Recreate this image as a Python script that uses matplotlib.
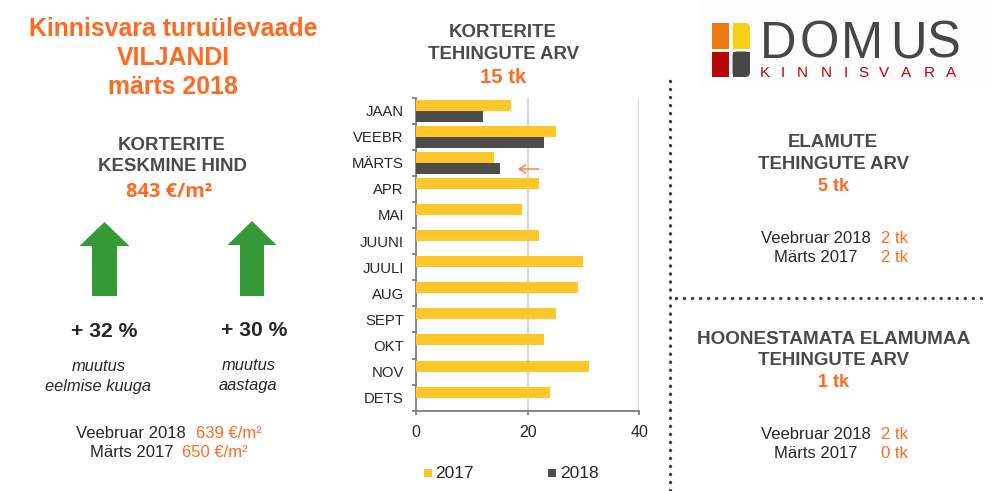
import matplotlib
matplotlib.use("Agg")
import matplotlib.pyplot as plt
from matplotlib.patches import Polygon, Rectangle, FancyBboxPatch

plt.rcParams['font.family'] = ['Liberation Sans', 'DejaVu Sans']

months = ["JAAN", "VEEBR", "MÄRTS", "APR", "MAI", "JUUNI", "JUULI", "AUG", "SEPT", "OKT", "NOV", "DETS"]
values_2017 = [17, 25, 14, 22, 19, 22, 30, 29, 25, 23, 31, 24]
values_2018 = [12, 23, 15]
x_ticks = [0, 20, 40]

ORANGE = "#FF6A21"
DARK = "#262626"
HEAD = "#4A4A4A"
YELLOW = "#FFC62A"
GREY = "#4D4D4B"
GREEN = "#339A35"
W, H = 993, 491

fig = plt.figure(figsize=(W / 100, H / 100), dpi=100, facecolor="white")

# overlay in pixel coordinates
ov = fig.add_axes([0, 0, 1, 1], zorder=0)
ov.set_xlim(0, W)
ov.set_ylim(H, 0)
ov.axis("off")

def put(x, y, s, size=11, color=DARK, weight="normal", style="normal", family=None, zorder=5):
    # y is the vertical centre of the capitals
    kw = {"family": family} if family else {}
    ov.text(x, y + 0.344 * size * 1.389, s, fontsize=size, color=color, fontweight=weight, fontstyle=style,
            ha="center", va="baseline", zorder=zorder, **kw)

# left column
put(173, 27.7, "Kinnisvara turuülevaade", 17.9, ORANGE, "bold")
put(173, 56, "VILJANDI", 17.9, ORANGE, "bold")
put(173, 85, "märts 2018", 17.9, ORANGE, "bold")
put(172, 143.3, "KORTERITE", 13.4, HEAD, "bold")
put(172, 164.5, "KESKMINE HIND", 13.4, HEAD, "bold")
put(169, 190, "843 €/m²", 14.4, ORANGE, "bold", family="Open Sans")

for x, tip, base, half, stem in [(104.5, 222, 296, 25, 12.5), (252, 221, 296, 24.5, 12)]:
    neck = tip + 24
    ov.add_patch(Polygon([(x, tip), (x + half, neck), (x + stem, neck), (x + stem, base),
                          (x - stem, base), (x - stem, neck), (x - half, neck)],
                         closed=True, fc=GREEN, ec="none"))

put(104.5, 329.5, "+ 32 %", 15.2, DARK, "bold")
put(254, 328.5, "+ 30 %", 15.2, DARK, "bold")
put(99, 365, "muutus", 11.9, DARK, style="italic")
put(98, 385, "eelmise kuuga", 11.9, DARK, style="italic")
put(249, 364, "muutus", 11.9, DARK, style="italic")
put(248, 384, "aastaga", 11.9, DARK, style="italic")

def pair(xl, xr, y, left, right):
    by = y + 0.344 * 12 * 1.389
    ov.text(xl, by, left, fontsize=12, color=DARK, ha="right", va="baseline")
    ov.text(xr, by, right, fontsize=12, color=ORANGE, ha="left", va="baseline")

pair(186, 196, 432, "Veebruar 2018", "639 €/m²")
pair(174, 182, 451, "Märts 2017", "650 €/m²")

# middle titles
put(503, 31, "KORTERITE", 13.4, HEAD, "bold")
put(503, 53, "TEHINGUTE ARV", 13.4, HEAD, "bold")
put(503, 76, "15 tk", 14.6, ORANGE, "bold")

# right column
put(833, 141, "ELAMUTE", 13.4, HEAD, "bold")
put(833, 163, "TEHINGUTE ARV", 13.4, HEAD, "bold")
put(833, 185, "5 tk", 13, ORANGE, "bold")
pair(871, 881, 237, "Veebruar 2018", "2 tk")
pair(857, 881, 256, "Märts 2017", "2 tk")

put(833.5, 337, "HOONESTAMATA ELAMUMAA", 13.7, HEAD, "bold")
put(833, 359, "TEHINGUTE ARV", 13.4, HEAD, "bold")
put(833, 381, "1 tk", 13, ORANGE, "bold")
pair(871, 881, 433, "Veebruar 2018", "2 tk")
pair(857, 881, 452, "Märts 2017", "0 tk")

# dotted separators
ov.plot([670, 670], [81, 491], color="#404040", lw=2.5, ls=(0, (0.01, 2.3)), dash_capstyle="round")
ov.plot([676, 985], [298, 298], color="#404040", lw=2.5, ls=(0, (0.01, 2.3)), dash_capstyle="round")

# logo
ov.add_patch(Rectangle((700, 0), 293, 85, fc="#FDFDFD", ec="none", zorder=1))
ov.add_patch(Rectangle((712, 23), 17, 26, fc="#EE7B10", ec="none", zorder=2))
ov.add_patch(FancyBboxPatch((732.5, 23), 17.5, 26, boxstyle="round,pad=0,rounding_size=5",
                            fc="#F8D016", ec="none", zorder=2))
ov.add_patch(Rectangle((732.5, 23), 8, 26, fc="#F8D016", ec="none", zorder=2))
ov.add_patch(Rectangle((732.5, 35), 17.5, 14, fc="#F8D016", ec="none", zorder=2))
ov.add_patch(Rectangle((712, 51.5), 17, 25.5, fc="#B80507", ec="none", zorder=2))
ov.add_patch(FancyBboxPatch((732.5, 51.5), 17.5, 25.5, boxstyle="round,pad=0,rounding_size=5",
                            fc="#474747", ec="none", zorder=2))
ov.add_patch(Rectangle((732.5, 51.5), 17.5, 13, fc="#474747", ec="none", zorder=2))
ov.add_patch(Rectangle((732.5, 51.5), 8, 25.5, fc="#474747", ec="none", zorder=2))
for x, ch in zip([778, 819, 862, 908, 944], "DOMUS"):
    put(x, 40.5, ch, 36.5, "#474747")
for x, ch in zip([765, 783, 802, 826, 846, 863, 884, 906, 929, 951], "KINNISVARA"):
    put(x, 71.5, ch, 11, "#B80507")

# chart
ax = fig.add_axes([416.3 / W, 1 - 410.7 / H, (639.2 - 416.3) / W, (410.7 - 97.5) / H], zorder=3)
ax.patch.set_alpha(0)
pos = list(range(len(months)))
bar_h = 0.42
ax.barh([p - bar_h / 2 for p in pos], values_2017, height=bar_h, color=YELLOW, label="2017", zorder=3)
ax.barh([p + bar_h / 2 for p in pos[:len(values_2018)]], values_2018, height=bar_h, color=GREY, label="2018", zorder=3)
ax.set_xlim(0, 40)
ax.set_ylim(len(months) - 0.5, -0.5)
ax.set_yticks(pos)
ax.set_yticklabels(months)
ax.set_yticks([p - 0.5 for p in pos] + [len(months) - 0.5], minor=True)
ax.set_xticks(x_ticks)
ax.grid(axis="x", color="#D9D9D9", lw=1.5, zorder=0)
ax.set_axisbelow(True)
for s in ("top", "right"):
    ax.spines[s].set_visible(False)
for s in ("left", "bottom"):
    ax.spines[s].set_color("#868686")
    ax.spines[s].set_linewidth(1.4)
ax.tick_params(axis="y", which="major", length=0, labelsize=10.7, labelcolor=DARK, pad=9)
ax.tick_params(axis="y", which="minor", length=2.6, width=1.4, color="#868686")
ax.tick_params(axis="x", length=2.6, width=1.4, color="#868686", labelsize=11.5, labelcolor=DARK, pad=8)
ax.annotate("", xy=(518, 169), xytext=(539, 169), xycoords=ov.transData, textcoords=ov.transData,
            arrowprops=dict(arrowstyle="->,head_length=0.45,head_width=0.3", color="#FF7F50", lw=1.1,
                            shrinkA=0, shrinkB=0))

# legend
ov.add_patch(Rectangle((424, 469), 7.5, 7.5, fc=YELLOW, ec="none"))
ov.add_patch(Rectangle((548, 469), 7.5, 7.5, fc=GREY, ec="none"))
ov.text(435, 473, "2017", fontsize=12.5, color=DARK, ha="left", va="center")
ov.text(560, 473, "2018", fontsize=12.5, color=DARK, ha="left", va="center")

fig.savefig("out.png", dpi=100)
